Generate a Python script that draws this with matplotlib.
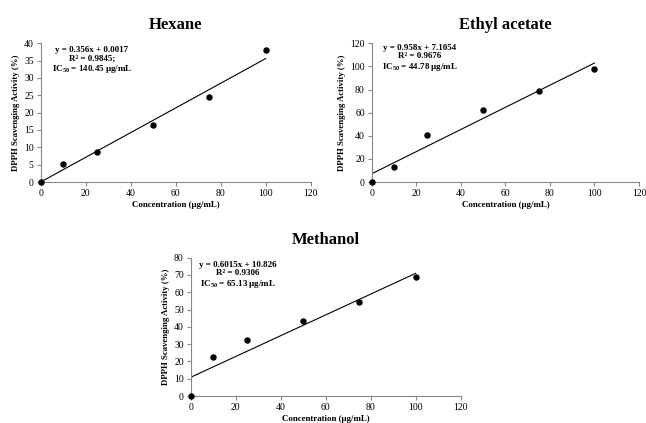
import matplotlib
matplotlib.use("Agg")
import matplotlib.pyplot as plt
import numpy as np

plt.rcParams['font.family'] = ['Liberation Serif', 'DejaVu Serif']

conc = [0, 10, 25, 50, 75, 100]
hexane = [0, 5.3, 8.7, 16.3, 24.5, 38.0]
ethyl = [0, 13.0, 40.5, 62.5, 79.0, 97.5]
methanol = [0, 22.5, 32.5, 43.5, 54.5, 69.0]

titles = ["Hexane", "Ethyl acetate", "Methanol"]
slopes = [0.356, 0.958, 0.6015]
intercepts = [0.0017, 7.1054, 10.826]
eq_texts = [
    "y = 0.356x + 0.0017\nR² = 0.9845;\nIC$_{\\mathbf{50}}$ = 140.45 µg/mL",
    "y = 0.958x + 7.1054\nR² = 0.9676\nIC$_{\\mathbf{50}}$ = 44.78 µg/mL",
    "y = 0.6015x + 10.826\nR² = 0.9306\nIC$_{\\mathbf{50}}$ = 65.13 µg/mL",
]
ylims = [(0, 40, 5), (0, 120, 20), (0, 80, 10)]
xticks = [0, 20, 40, 60, 80, 100, 120]

W, H = 646, 423
fig = plt.figure(figsize=(W / 100, H / 100), dpi=100)
plt.rcParams['mathtext.fontset'] = 'custom'
plt.rcParams['mathtext.rm'] = 'Liberation Serif:bold'
plt.rcParams['mathtext.bf'] = 'Liberation Serif:bold'

def rect(x0, x1, ytop, ybot):
    return [x0 / W, 1 - ybot / H, (x1 - x0) / W, (ybot - ytop) / H]

rects = [rect(40.7, 310.7, 43.3, 182), rect(371.7, 639, 43.3, 182), rect(190.7, 460.7, 257.7, 396)]
series = [hexane, ethyl, methanol]
text_pos = [(92, 46.5), (420, 44), (238, 261)]

for i in range(3):
    ax = fig.add_axes(rects[i])
    ys = series[i]
    ax.scatter(conc, ys, s=13, color='black', zorder=3, clip_on=False)
    xl = np.array([0, 100])
    ax.plot(xl, slopes[i] * xl + intercepts[i], color='black', lw=0.8)
    ax.set_xlim(0, 120)
    lo, hi, st = ylims[i]
    ax.set_ylim(lo, hi)
    ax.set_yticks(np.arange(lo, hi + 0.1, st))
    ax.set_xticks(xticks)
    for s in ['top', 'right']:
        ax.spines[s].set_visible(False)
    for s in ['left', 'bottom']:
        ax.spines[s].set_color('#888888')
        ax.spines[s].set_linewidth(0.8)
    ax.tick_params(direction='out', length=3, width=0.8, color='#888888', labelsize=7, pad=2)
    ax.set_xlabel("Concentration (µg/mL)", fontsize=6.4, fontweight='bold', labelpad=2)
    ax.set_ylabel("DPPH Scavenging Activity (%)", fontsize=6.3, fontweight='bold', labelpad=3)
    ax.set_title(titles[i], fontsize=12, fontweight='bold', pad=10)
    tx, ty = text_pos[i]
    fig.text(tx / W, 1 - ty / H, eq_texts[i], ha='center', va='top', fontsize=6.5,
             fontweight='bold', linespacing=1.05, multialignment='center')

fig.savefig("out.png", dpi=100)
